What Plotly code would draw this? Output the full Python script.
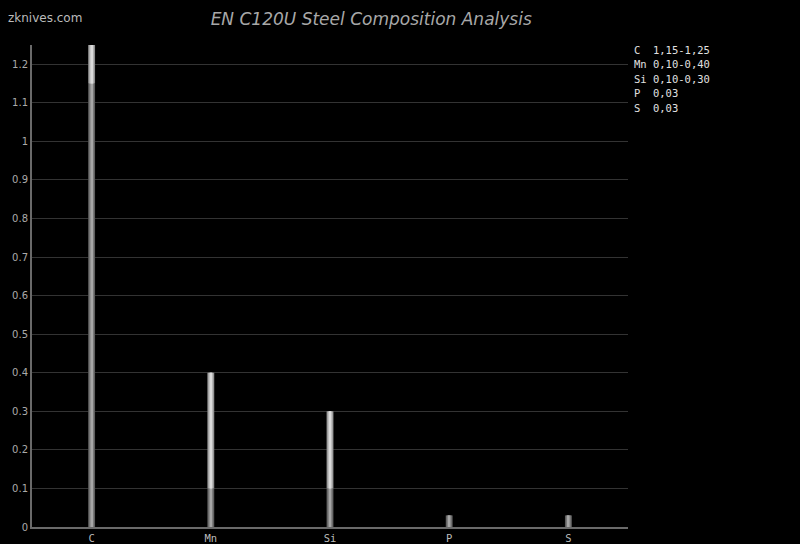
import plotly.graph_objects as go

elements = ["C", "Mn", "Si", "P", "S"]
min_vals = [1.15, 0.10, 0.10, 0.03, 0.03]
max_vals = [1.25, 0.40, 0.30, 0.03, 0.03]
range_labels = ["1,15-1,25", "0,10-0,40", "0,10-0,30", "0,03", "0,03"]
y_ticks = [0, 0.1, 0.2, 0.3, 0.4, 0.5, 0.6, 0.7, 0.8, 0.9, 1, 1.1, 1.2]

upper = [mx - mn for mx, mn in zip(max_vals, min_vals)]

fig = go.Figure()

lower_shades = [(0.058, "#5a5a5a"), (0.042, "#787878"), (0.024, "#969696"), (0.01, "#a6a6a6")]
upper_shades = [(0.058, "#8a8a8a"), (0.042, "#b0b0b0"), (0.024, "#cecece"), (0.01, "#dadada")]

for w, c in lower_shades:
    fig.add_trace(go.Bar(x=elements, y=min_vals, base=[0] * len(elements), width=w,
                         marker=dict(color=c, line=dict(width=0)), hoverinfo="skip", showlegend=False))
for w, c in upper_shades:
    fig.add_trace(go.Bar(x=elements, y=upper, base=min_vals, width=w,
                         marker=dict(color=c, line=dict(width=0)), hoverinfo="skip", showlegend=False))

for i, (el, lab) in enumerate(zip(elements, range_labels)):
    fig.add_annotation(x=632, y=50 + i * 14.4, text=f"{el:<2} {lab}",
                       showarrow=False, xanchor="left", yanchor="middle",
                       font=dict(family="DejaVu Sans Mono", size=10.5, color="#e0e0e0"))

fig.update_layout(
    template="none",
    width=800, height=544,
    paper_bgcolor="#000000", plot_bgcolor="#000000",
    barmode="overlay",
    margin=dict(l=32, r=172, t=45, b=17, pad=0),
    title=dict(text="EN C120U Steel Composition Analysis", x=0.464, xanchor="center",
               y=0.965, yanchor="middle",
               font=dict(family="DejaVu Sans", size=17, color="#a8a8a8", style="italic")),
    xaxis=dict(showgrid=False, showline=True, linecolor="#6a6a6a", linewidth=2,
               ticks="", automargin=False,
               tickfont=dict(family="DejaVu Sans Mono", size=10.5, color="#bbbbbb"),
               zeroline=False, fixedrange=True),
    yaxis=dict(range=[0, 1.25], tickvals=y_ticks, ticktext=[f"{v:g}" for v in y_ticks],
               showgrid=True, gridcolor="#333333", gridwidth=1, automargin=False,
               showline=True, linecolor="#6a6a6a", linewidth=2, ticks="",
               tickfont=dict(family="DejaVu Sans", size=10, color="#aaaaaa"),
               zeroline=False, fixedrange=True),
    showlegend=False,
)

fig.add_annotation(x=6, y=18, text="zknives.com", showarrow=False,
                   xanchor="left", yanchor="middle",
                   font=dict(family="DejaVu Sans", size=12, color="#bbbbbb"))

pw = 800 - 32 - 172
ph = 544 - 45 - 17
for a in fig.layout.annotations:
    a.xref = "paper"
    a.yref = "paper"
    a.x = (a.x - 32) / pw
    a.y = 1 - (a.y - 45) / ph

fig.write_html("out.html", config={"displayModeBar": False},
               post_script="document.body.style.margin='0';document.body.style.overflow='hidden';document.body.style.background='#000';")
